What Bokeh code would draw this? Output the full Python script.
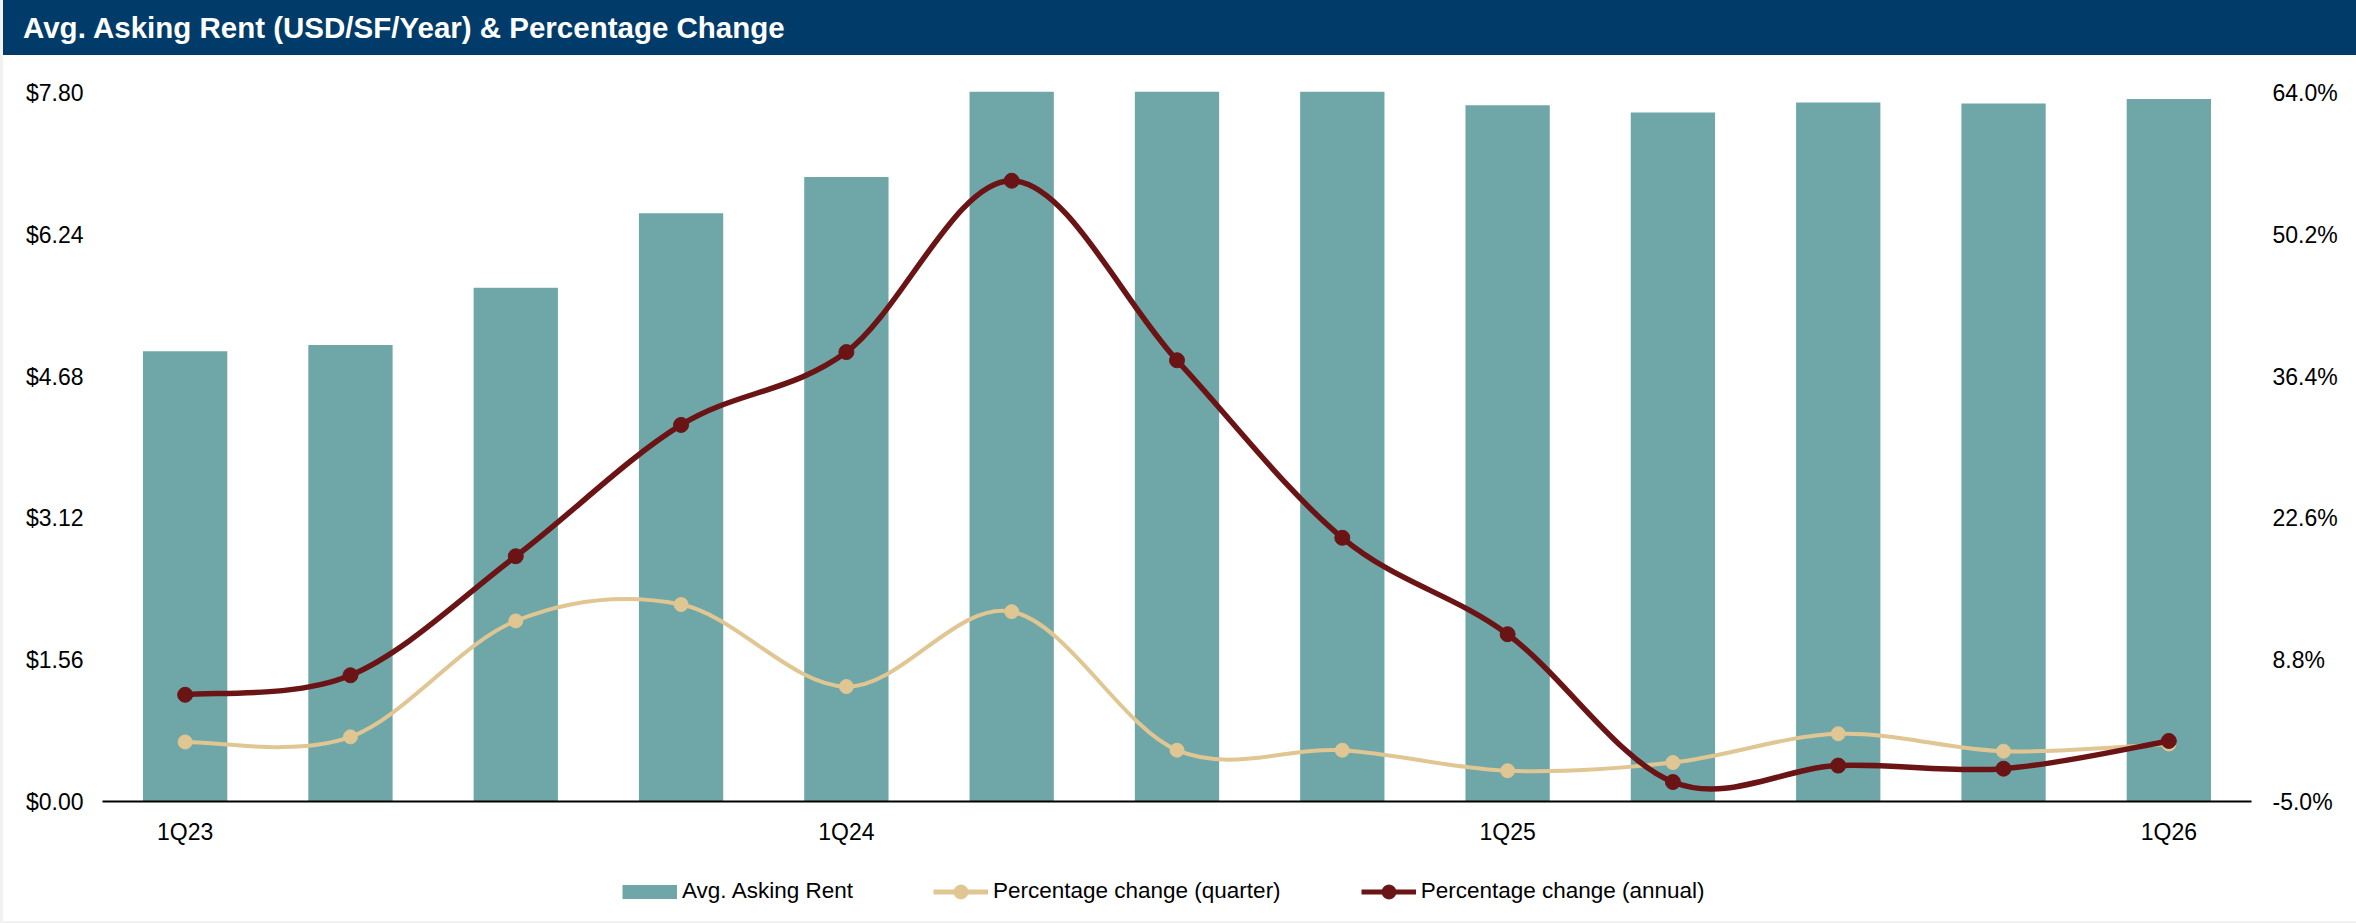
from bokeh.plotting import figure
from bokeh.models import (Range1d, LinearAxis, FixedTicker, CustomJSTickFormatter,
                          Legend, LegendItem, Div)
from bokeh.layouts import column
from bokeh.embed import file_html
from bokeh.resources import INLINE

# ---- data ---------------------------------------------------------------
quarters = ["1Q23", "2Q23", "3Q23", "4Q23", "1Q24", "2Q24", "3Q24",
            "4Q24", "1Q25", "2Q25", "3Q25", "4Q25", "1Q26"]
rent = [4.96, 5.03, 5.66, 6.48, 6.88, 7.82, 7.82, 7.82, 7.67, 7.59, 7.70, 7.69, 7.74]
pct_quarter = [0.8, 1.3, 12.6, 14.2, 6.2, 13.5, 0.0, 0.0, -2.0, -1.2, 1.6, -0.1, 0.6]
pct_annual = [5.4, 7.3, 18.9, 31.7, 38.8, 55.5, 38.0, 20.7, 11.3, -3.1, -1.5, -1.8, 0.9]
rent_ticks = [0.0, 1.56, 3.12, 4.68, 6.24, 7.80]
pct_ticks = [-5.0, 8.8, 22.6, 36.4, 50.2, 64.0]
labelled_quarters = ["1Q23", "1Q24", "1Q25", "1Q26"]

TITLE = "Avg. Asking Rent (USD/SF/Year) &amp; Percentage Change"
NAVY = "#003b69"
TEAL = "#6fa7a8"
TAN = "#dfc692"
MAROON = "#6b1416"
FONT = "Liberation Sans"
FS = "23px"

W = 2353            # width of every panel (3px page gutter on the left)
BL, BR = 99, 105    # shared left/right borders so the frames line up

# ---- header band ----------------------------------------------------------
head = Div(text=TITLE, width=W, height=55, margin=(0, 0, 0, 3),
           styles={"background-color": NAVY, "color": "white",
                   "font-family": FONT, "font-weight": "bold", "font-size": "29.5px",
                   "line-height": "55px", "padding-left": "20px",
                   "box-sizing": "border-box", "white-space": "nowrap"})

# ---- main chart -------------------------------------------------------------
xs = [i + 0.5 for i in range(len(quarters))]
rent_top = 7.855
pct_low = pct_ticks[0]
pct_top = pct_low + rent_top / rent_ticks[-1] * (pct_ticks[-1] - pct_low)

p = figure(width=W, height=795, toolbar_location=None, output_backend="svg",
           x_range=Range1d(0, len(quarters)), y_range=Range1d(0, rent_top),
           min_border_left=BL, min_border_right=BR, min_border_top=33,
           min_border_bottom=49, outline_line_color=None,
           background_fill_color="white", border_fill_color="white",
           margin=(0, 0, 0, 3))
p.extra_y_ranges = {"pct": Range1d(pct_low, pct_top)}
p.grid.visible = False


def style_axis(ax, standoff):
    ax.major_tick_line_color = None
    ax.minor_tick_line_color = None
    ax.major_tick_out = 0
    ax.major_tick_in = 0
    ax.major_label_standoff = standoff
    ax.major_label_text_font = FONT
    ax.major_label_text_font_size = FS
    ax.major_label_text_color = "black"


xa = p.xaxis[0]
xa.ticker = FixedTicker(ticks=[xs[quarters.index(q)] for q in labelled_quarters])
xa.formatter = CustomJSTickFormatter(args=dict(labels=quarters),
                                     code="return labels[Math.round(tick - 0.5)];")
style_axis(xa, 17)
xa.axis_line_color = "black"
xa.axis_line_width = 2

ya = p.yaxis[0]
ya.ticker = FixedTicker(ticks=rent_ticks)
ya.formatter = CustomJSTickFormatter(code="return '$' + tick.toFixed(2);")
ya.axis_line_color = None
style_axis(ya, 19)

ra = LinearAxis(y_range_name="pct", ticker=FixedTicker(ticks=pct_ticks),
                formatter=CustomJSTickFormatter(code="return tick.toFixed(1) + '%';"))
ra.axis_line_color = None
style_axis(ra, 21)
p.add_layout(ra, "right")

# bars
p.vbar(x=xs, top=rent, width=0.51, fill_color=TEAL, line_color=None)


def smooth_segments(x, y):
    """Cubic Bezier pieces through every point (Catmull-Rom style tangents)."""
    n = len(x)
    seg = dict(x0=[], y0=[], x1=[], y1=[], cx0=[], cy0=[], cx1=[], cy1=[])
    for i in range(n - 1):
        a = max(i - 1, 0)
        d = min(i + 2, n - 1)
        seg["x0"].append(x[i]); seg["y0"].append(y[i])
        seg["x1"].append(x[i + 1]); seg["y1"].append(y[i + 1])
        seg["cx0"].append(x[i] + (x[i + 1] - x[a]) / 6)
        seg["cy0"].append(y[i] + (y[i + 1] - y[a]) / 6)
        seg["cx1"].append(x[i + 1] - (x[d] - x[i]) / 6)
        seg["cy1"].append(y[i + 1] - (y[d] - y[i]) / 6)
    return seg


p.bezier(**smooth_segments(xs, pct_quarter), line_color=TAN, line_width=4,
         y_range_name="pct")
p.scatter(xs, pct_quarter, size=14, fill_color=TAN, line_color=TAN, y_range_name="pct")
p.bezier(**smooth_segments(xs, pct_annual), line_color=MAROON, line_width=5.5,
         y_range_name="pct")
p.scatter(xs, pct_annual, size=15, fill_color=MAROON, line_color=MAROON,
          y_range_name="pct")

# ---- legend strip -----------------------------------------------------------
leg = figure(width=W, height=71, toolbar_location=None, output_backend="svg",
             x_range=Range1d(0, 1), y_range=Range1d(0, 1),
             x_axis_location=None, y_axis_location=None,
             min_border_left=BL, min_border_right=BR, min_border_top=0,
             min_border_bottom=0, background_fill_color="white",
             border_fill_color="white", outline_line_color=None,
             margin=(0, 0, 2, 3))
leg.grid.visible = False

# swatch renderers sit outside the strip's visible range; only their legend
# glyphs are shown
off = dict(x=[-5], y=[-5])
sw_bar = leg.line(**off, line_color=TEAL, line_width=14, line_cap="butt")
sw_q_line = leg.line(**off, line_color=TAN, line_width=5)
sw_q_dot = leg.scatter(**off, fill_color=TAN, line_color=TAN)
sw_a_line = leg.line(**off, line_color=MAROON, line_width=5)
sw_a_dot = leg.scatter(**off, fill_color=MAROON, line_color=MAROON)

legend = Legend(items=[
    LegendItem(label="Avg. Asking Rent", renderers=[sw_bar]),
    LegendItem(label="Percentage change (quarter)", renderers=[sw_q_line, sw_q_dot]),
    LegendItem(label="Percentage change (annual)", renderers=[sw_a_line, sw_a_dot]),
], orientation="horizontal", location=(520, 12.5), glyph_width=55, glyph_height=35,
    label_standoff=5, spacing=80, padding=0, margin=0, border_line_color=None,
    background_fill_alpha=0, label_text_font=FONT, label_text_font_size="22.5px",
    label_text_color="black", label_height=35)
leg.add_layout(legend)

# white page behind the panels, with a pale gutter on the left and bottom edges
page = column(head, p, leg, spacing=0,
              styles={"background-color": "white",
                      "box-shadow": "inset 3px -2px 0 #f2f2f2"})
open("out.html", "w").write(file_html(page, INLINE))
